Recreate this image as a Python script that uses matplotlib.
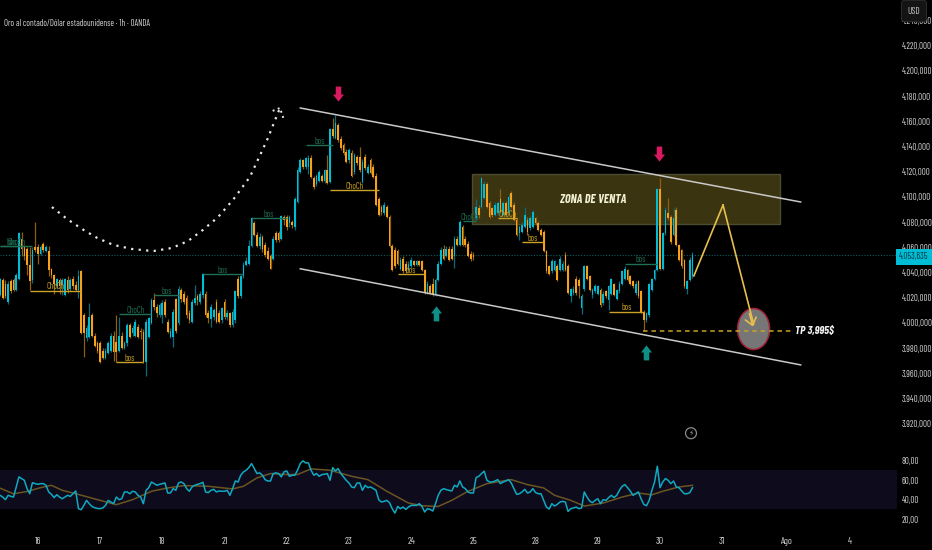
"""XAUUSD 1h (TradingView style) con canal bajista y zona de venta."""
import numpy as np
import matplotlib
matplotlib.use("Agg")
import matplotlib.pyplot as plt
from matplotlib.patches import Ellipse, Rectangle
from matplotlib.path import Path

plt.rcParams["font.family"] = ["Barlow Condensed", "Liberation Sans", "DejaVu Sans"]

BG = "#000000"
UP = "#00bcd4"
DOWN = "#f7a11a"
UP_WICK = "#0b6a7c"
DOWN_WICK = "#8f5f10"
GREEN = "#1f6f55"
GOLD = "#c9a227"
PX_W, PX_H = 932, 550
PANE_R = 897          # borde derecho del panel en px
BAR_PX = 2.705

opens = [
    4022, 4034, 4031, 4017, 4033, 4034, 4026, 4035, 4067, 4060,
    4059, 4046, 4034, 4060, 4060, 4055, 4063, 4057, 4057, 4043,
    4038, 4029, 4034, 4030, 4022, 4034, 4027, 4035, 4030, 4026,
    4041, 4006, 3988, 3989, 4006, 3990, 3984, 3984, 3978, 3972,
    3976, 3978, 3990, 3985, 3978, 3990, 3980, 3984, 3998, 3992,
    3990, 3997, 3994, 3993, 3969, 3989, 4000, 4018, 4013, 4006,
    4006, 4017, 4001, 3989, 3989, 4019, 4000, 4026, 4023, 4020,
    4008, 4001, 4016, 4021, 4017, 4022, 4023, 4008, 4003, 4005,
    4017, 4008, 4002, 4017, 4005, 4008, 3998, 4002, 4035, 4021,
    4037, 4046, 4047, 4061, 4079, 4070, 4061, 4068, 4062, 4057,
    4053, 4051, 4071, 4071, 4067, 4084, 4084, 4079, 4080, 4076,
    4096, 4120, 4129, 4124, 4124, 4131, 4115, 4110, 4113, 4117,
    4113, 4121, 4112, 4154, 4147, 4157, 4146, 4141, 4136, 4129,
    4135, 4120, 4132, 4132, 4112, 4132, 4119, 4129, 4124, 4117,
    4098, 4092, 4087, 4092, 4084, 4061, 4058, 4057, 4043, 4051,
    4047, 4042, 4045, 4049, 4046, 4049, 4049, 4042, 4024, 4029,
    4031, 4022, 4034, 4047, 4059, 4053, 4059, 4059, 4053, 4067,
    4062, 4076, 4067, 4063, 4055, 4054, 4083, 4091, 4092, 4099,
    4110, 4095, 4091, 4086, 4087, 4098, 4086, 4095, 4087, 4103,
    4094, 4082, 4071, 4072, 4076, 4082, 4075, 4076, 4083, 4079,
    4074, 4072, 4057, 4045, 4041, 4042, 4045, 4042, 4042, 4054,
    4045, 4021, 4024, 4035, 4034, 4012, 4027, 4045, 4037, 4022,
    4025, 4023, 4026, 4016, 4025, 4018, 4023, 4031, 4019, 4025,
    4031, 4035, 4042, 4037, 4033, 4024, 4033, 4025, 4009, 4002,
    4006, 4026, 4035, 4042, 4106, 4043, 4071, 4087, 4084, 4070,
    4090, 4062, 4058, 4050, 4027, 4034, 4037,
]
closes = [
    4035, 4020, 4021, 4031, 4025, 4026, 4038, 4071, 4059, 4053,
    4046, 4033, 4058, 4058, 4055, 4060, 4058, 4060, 4042, 4038,
    4031, 4035, 4029, 4034, 4035, 4026, 4034, 4029, 4026, 4037,
    3992, 3992, 3996, 4005, 3990, 3982, 3978, 3969, 3972, 3978,
    3984, 3990, 3977, 3977, 3990, 3980, 3984, 3998, 3989, 3996,
    4001, 3989, 3993, 3969, 4001, 4004, 4018, 4013, 4008, 4014,
    4016, 4006, 3993, 3994, 4009, 3994, 4027, 4019, 4017, 4006,
    4002, 4017, 4020, 4018, 4023, 4039, 4006, 4004, 4013, 4010,
    4001, 4001, 4012, 4005, 4008, 3998, 4009, 4025, 4021, 4037,
    4046, 4049, 4061, 4083, 4070, 4061, 4068, 4059, 4054, 4051,
    4043, 4067, 4066, 4066, 4085, 4082, 4076, 4084, 4078, 4098,
    4121, 4129, 4124, 4131, 4131, 4116, 4108, 4117, 4120, 4113,
    4121, 4111, 4154, 4148, 4159, 4145, 4139, 4135, 4128, 4137,
    4117, 4133, 4127, 4121, 4128, 4123, 4124, 4119, 4116, 4094,
    4086, 4088, 4094, 4084, 4061, 4042, 4045, 4047, 4050, 4041,
    4041, 4047, 4050, 4046, 4049, 4046, 4042, 4024, 4031, 4024,
    4022, 4034, 4047, 4058, 4051, 4059, 4050, 4051, 4067, 4062,
    4080, 4062, 4062, 4053, 4051, 4052, 4092, 4086, 4115, 4110,
    4092, 4084, 4086, 4094, 4095, 4088, 4095, 4086, 4100, 4092,
    4082, 4070, 4076, 4078, 4086, 4072, 4083, 4088, 4079, 4074,
    4070, 4057, 4041, 4039, 4049, 4049, 4034, 4051, 4047, 4042,
    4024, 4027, 4027, 4024, 4029, 4021, 4045, 4035, 4026, 4026,
    4029, 4029, 4014, 4023, 4021, 4029, 4035, 4022, 4026, 4031,
    4041, 4043, 4034, 4031, 4029, 4031, 4021, 4009, 4002, 4008,
    4031, 4035, 4042, 4106, 4043, 4071, 4090, 4083, 4064, 4083,
    4062, 4050, 4045, 4029, 4033, 4050, 4053.635,
]
highs = [
    4036, 4036, 4034, 4033, 4035, 4036, 4040, 4072, 4072, 4062,
    4060, 4060, 4060, 4080, 4063, 4062, 4064, 4062, 4061, 4044,
    4039, 4036, 4036, 4036, 4036, 4037, 4036, 4037, 4033, 4042,
    4042, 4008, 3998, 4016, 4008, 3992, 3986, 3986, 3980, 3980,
    3986, 3992, 3994, 4006, 4005, 3993, 3986, 4000, 4000, 3998,
    4003, 3999, 3996, 3995, 4003, 4005, 4020, 4024, 4015, 4016,
    4018, 4019, 4003, 3996, 4011, 4020, 4029, 4028, 4025, 4022,
    4010, 4019, 4030, 4023, 4025, 4040, 4025, 4010, 4015, 4012,
    4019, 4010, 4013, 4019, 4010, 4009, 4011, 4026, 4037, 4038,
    4048, 4052, 4066, 4084, 4081, 4072, 4071, 4070, 4064, 4060,
    4055, 4069, 4073, 4073, 4086, 4086, 4086, 4086, 4082, 4100,
    4124, 4131, 4130, 4132, 4133, 4133, 4117, 4118, 4121, 4118,
    4122, 4133, 4155, 4163, 4165, 4159, 4148, 4143, 4138, 4139,
    4137, 4135, 4133, 4140, 4130, 4134, 4126, 4131, 4126, 4119,
    4100, 4094, 4096, 4094, 4086, 4063, 4060, 4059, 4052, 4053,
    4049, 4049, 4052, 4050, 4050, 4050, 4050, 4043, 4033, 4031,
    4036, 4036, 4049, 4060, 4062, 4061, 4061, 4061, 4069, 4069,
    4082, 4078, 4069, 4065, 4057, 4056, 4098, 4094, 4116, 4113,
    4112, 4097, 4092, 4096, 4097, 4106, 4097, 4097, 4102, 4105,
    4096, 4083, 4078, 4080, 4092, 4084, 4085, 4090, 4084, 4081,
    4075, 4074, 4058, 4046, 4051, 4050, 4047, 4053, 4049, 4056,
    4047, 4028, 4029, 4037, 4036, 4023, 4046, 4046, 4038, 4028,
    4031, 4030, 4028, 4025, 4026, 4030, 4036, 4032, 4027, 4033,
    4042, 4045, 4043, 4038, 4034, 4033, 4034, 4026, 4010, 4009,
    4032, 4036, 4043, 4107, 4115, 4072, 4092, 4099, 4086, 4091,
    4092, 4063, 4059, 4051, 4034, 4052, 4056,
]
lows = [
    4021, 4019, 4020, 4015, 4024, 4025, 4025, 4034, 4053, 4050,
    4038, 4026, 4032, 4056, 4047, 4054, 4056, 4056, 4037, 4036,
    4023, 4027, 4023, 4022, 4021, 4024, 4025, 4027, 4025, 4020,
    3991, 3973, 3986, 3988, 3989, 3981, 3976, 3968, 3971, 3971,
    3975, 3977, 3970, 3969, 3977, 3979, 3979, 3982, 3988, 3990,
    3989, 3988, 3987, 3968, 3958, 3988, 3999, 4010, 4005, 4005,
    4000, 4005, 3992, 3988, 3981, 3992, 3998, 4017, 4015, 4004,
    4000, 4000, 4014, 4014, 4015, 4020, 4005, 4000, 3997, 4002,
    4000, 4000, 4000, 4003, 4002, 3997, 3997, 4000, 4020, 4020,
    4036, 4045, 4046, 4060, 4069, 4060, 4059, 4056, 4052, 4050,
    4043, 4050, 4064, 4064, 4066, 4078, 4074, 4076, 4075, 4074,
    4095, 4119, 4122, 4122, 4118, 4115, 4106, 4109, 4112, 4112,
    4111, 4110, 4111, 4147, 4146, 4144, 4137, 4133, 4127, 4127,
    4116, 4118, 4125, 4120, 4111, 4121, 4118, 4118, 4115, 4093,
    4085, 4086, 4086, 4083, 4060, 4041, 4044, 4046, 4042, 4040,
    4040, 4041, 4044, 4045, 4045, 4045, 4041, 4023, 4023, 4023,
    4021, 4021, 4033, 4046, 4050, 4052, 4049, 4050, 4044, 4061,
    4061, 4061, 4060, 4052, 4049, 4050, 4082, 4083, 4091, 4098,
    4091, 4083, 4084, 4085, 4086, 4087, 4085, 4085, 4086, 4091,
    4081, 4069, 4066, 4071, 4075, 4070, 4074, 4075, 4078, 4073,
    4069, 4056, 4040, 4038, 4040, 4041, 4033, 4041, 4041, 4041,
    4023, 4017, 4022, 4022, 4020, 4007, 4025, 4034, 4025, 4020,
    4024, 4022, 4013, 4014, 4020, 4010, 4022, 4021, 4018, 4024,
    4030, 4034, 4033, 4030, 4028, 4022, 4020, 4008, 3994, 4001,
    4005, 4025, 4034, 4041, 4042, 4042, 4070, 4082, 4063, 4069,
    4061, 4049, 4044, 4028, 4023, 4033, 4036,
]

rsi = [
    44.4, 42.6, 39.9, 44.4, 43.3, 42.6, 52.9, 63.2, 61.5, 59.7, 51.2, 46, 57.3, 56.3, 55.6,
    56.3, 56.3, 54.6, 47.8, 45.4, 42, 45, 42.6, 40.9, 42.6, 44.4, 43.3, 46, 48.8,
    30.7, 29.6, 34.1, 39.2, 35.8, 33, 31.7, 31, 30.7, 31.4, 34.1, 39.2, 37.5, 35.8, 42.6,
    39.9, 40.9, 47.8, 47.8, 46, 48.5, 47.8, 44.4, 42.6, 35.8, 49.5, 52.2, 58, 56.3, 54.6,
    55.6, 56.3, 57, 46.7, 46.7, 51.2, 49.5, 57, 58, 56.3, 51.2, 48.5, 52.9, 54.6, 55.6,
    56.3, 57.7, 47.8, 47.1, 49.5, 50.5, 47.8, 48.8, 48.5, 48.5, 49.5, 44.4, 51.2, 59,
    58, 64.9, 68.3, 70, 72.7, 76.8, 71.7, 66.6, 67.3, 64.9, 60.4, 59, 59, 66.6, 67.3,
    66.6, 63.2, 68.3, 69.3, 63.8, 64.9, 64.9, 70, 76.8, 79.6, 77.5, 77.5, 70, 64.9,
    66.6, 63.8, 65.6, 65.9, 66.6, 59.7, 72.7, 69.3, 71.7, 66.6, 63.2, 59.7, 57, 52.9, 52.2,
    57, 57, 49.5, 54.6, 52.2, 52.9, 51.2, 49.5, 39.9, 37.5, 38.2, 39.2, 36.8, 30.7, 26.2,
    33, 30.7, 32.4, 30, 32.4, 34.1, 34.1, 34.1, 35.8, 33, 27.3, 30.7, 30, 28.3,
    35.8, 44.4, 49.5, 51.2, 50.2, 49.5, 48.8, 54.6, 52.9, 59, 52.9, 51.2, 47.8,
    46.7, 46.7, 62.5, 63.8, 66.6, 69, 59.7, 58, 58, 59, 60.4, 56.3, 58, 59, 60.4,
    57, 51.2, 45.4, 46, 47.8, 50.5, 46.7, 47.8, 51.2, 47.1, 46, 46, 39.2, 32.4, 30.3,
    35.8, 33.4, 35.1, 37.5, 38.2, 37.5, 27.9, 30.7, 31.4, 32.4, 30.7, 31.4, 47.8, 42.6, 38.5,
    36.8, 39.2, 40.9, 35.8, 39.9, 39.2, 42, 44.4, 42, 44.4, 49.5, 53.6, 55.3, 52.2, 48.8,
    44.4, 46, 47.8, 40.9, 35.1, 33.7, 39.2, 49.5, 58, 74.1, 52.2, 58, 61.5, 59.7, 56.3,
    59, 52.9, 52.2, 48.8, 46, 46, 47.1, 52.2,
]
rsi_ma_bar = [0, 5, 10, 15, 19, 23, 28, 37, 43, 49, 56, 62, 68, 77, 86, 90, 95, 100, 106, 110,
              115, 122, 130, 136, 143, 151, 156, 162, 167, 173, 174, 180, 189, 195, 201, 205,
              211, 216, 223, 230, 236, 241, 245, 251, 256]
rsi_ma_val = [51.7, 45.9, 48.3, 52.2, 54.6, 49.5, 46, 39.2, 34.8, 39.9, 48.5, 51.9, 54.3, 53.6,
              50.9, 53.6, 62.2, 66.6, 65.6, 65.6, 71.4, 70, 63.8, 60.4, 48.5, 36.5, 33.7, 33,
              39.2, 48.5, 49.5, 56.3, 60.4, 55.3, 51.9, 44.4, 39.2, 33.4, 36.5, 42.6, 46.7,
              44.9, 48.5, 52.9, 54.6]

day_ticks = [14, 37, 60, 83, 106, 129, 152, 175, 198, 221, 244, 267, 291, 314]
day_labels = ["16", "17", "18", "21", "22", "23", "24", "25", "28", "29", "30", "31", "Ago", "4"]
price_ticks = list(range(3920, 4241, 20))
rsi_ticks = [20, 40, 60, 80]
last_price = 4053.635

# rotura de estructura: inicio, fin (barra), nivel, texto
bos_green = [(0, 12, 4061, "ChoCh"), (0, 9, 4061, "bos"), (44, 56, 4007, "ChoCh"),
             (57, 66, 4022, "bos"), (75, 90, 4039, "bos"), (93, 106, 4083, "bos"),
             (113, 123, 4141, "bos"), (171, 176, 4081, "ChoCh"), (231, 243, 4047, "bos")]
bos_gold = [(11, 30, 4025.6, "ChoCh"), (43, 53, 3969, "bos"), (122, 140, 4105.6, "ChoCh"),
            (147, 157, 4039, "bos"), (184, 191, 4083, "ChoCh"), (193, 201, 4064, "bos"),
            (225, 238, 4009, "bos")]

channel_top_x, channel_top_y = [111, 296], [4170.6, 4096]
channel_low_x, channel_low_y = [111, 296], [4043, 3966.7]
zone_x, zone_y = (174.6, 288.5), (4078.6, 4118)
path_x, path_y = [256.5, 267.3], [4037.3, 4093.6]
drop_x, drop_y = [267.3, 278.4], [4093.6, 3996.8]
target_bar, target_price = 278.6, 3995
tp_x, tp_y = [237.7, 292.8], [3994, 3994]
curve_x = [19.2, 24.8, 30.3, 35.9, 41.8, 48.8, 56.6, 63.6, 69.5, 75, 80.6, 86.1, 92.4, 98.7, 103.5]
curve_y = [4092, 4082.5, 4074.6, 4067.5, 4062, 4058.7, 4057, 4059.5, 4065, 4073.8, 4084, 4097.6,
           4115.9, 4145, 4170.6]
curve_head_x, curve_head_y = [100.8, 103.5, 105], [4168.3, 4170.6, 4161]
down_arrow_x, down_arrow_y = [125, 243.6], [4182, 4134]
up_arrow_x, up_arrow_y = [161, 238.8], [4008, 3977]


def axes_px(top, bottom):
    """Rectángulo de ejes en fracción de figura a partir de px de imagen."""
    return [0, 1 - bottom / PX_H, PANE_R / PX_W, (bottom - top) / PX_H]


def draw_candles(ax):
    x = np.arange(len(closes))
    o, c = np.array(opens, float), np.array(closes, float)
    up = c >= o
    ax.vlines(x, lows, highs, colors=np.where(up, UP_WICK, DOWN_WICK), lw=0.9, zorder=3)
    ax.bar(x, np.maximum(np.abs(c - o), 0.8), bottom=np.minimum(o, c), width=0.62,
           color=np.where(up, UP, DOWN), lw=0, zorder=4)


def draw_structure(ax, items, color):
    for x0, x1, level, label in items:
        ax.hlines(level, x0, x1, colors=color, lw=1.0, zorder=5)
        ax.text((x0 + x1) / 2, level - 0.6, label, color=color, fontsize=6.2,
                ha="center", va="bottom", zorder=6)


fig = plt.figure(figsize=(PX_W / 100, PX_H / 100), dpi=100, facecolor=BG)
xlim = (0, PANE_R / BAR_PX)

# --- panel de precio ---
ax = fig.add_axes(axes_px(0, 440), facecolor=BG)
ax.set_xlim(*xlim)
ax.set_ylim(3907.1, 4256.3)
for s in ax.spines.values():
    s.set_visible(False)
ax.set_xticks([])
ax.yaxis.tick_right()
ax.set_yticks(price_ticks)
ax.set_yticklabels([f"{p // 1000}.{p % 1000:03d},000" for p in price_ticks])
ax.tick_params(axis="y", length=0, pad=3.2, labelsize=6.4, labelcolor="#d6d6d6")

ax.add_patch(Rectangle((zone_x[0], zone_y[0]), zone_x[1] - zone_x[0], zone_y[1] - zone_y[0],
                       facecolor="#3a3410", edgecolor="#4c4a32", lw=1, zorder=1))
ax.axhline(last_price, color="#0e5d66", lw=0.8, ls=(0, (1, 1.5)), zorder=2)
draw_candles(ax)
draw_structure(ax, bos_green, GREEN)
draw_structure(ax, bos_gold, GOLD)

ax.plot(channel_top_x, channel_top_y, color="#c9c9c9", lw=1.1, zorder=7)
ax.plot(channel_low_x, channel_low_y, color="#c9c9c9", lw=1.1, zorder=7)

ax.add_patch(Ellipse((278.6, 3995.2), 32 / BAR_PX, 41 / 1.26, facecolor="#767676",
                     edgecolor="#a3243a", lw=1.1, zorder=8))
ax.plot(tp_x, tp_y, color=GOLD, lw=1.1, ls=(0, (3, 2.5)), zorder=9)
ax.plot(path_x, path_y, color="#e6bf4c", lw=1.2, zorder=9)
ax.plot(drop_x[:1] + [target_bar], drop_y[:1] + [target_price + 4], color="#e6bf4c", lw=1.2, zorder=9)
ax.annotate("", xy=(target_bar, target_price), xytext=(drop_x[0] + 9.5, drop_y[0] - 84),
            arrowprops=dict(arrowstyle="->,head_length=0.5,head_width=0.4", color="#e6bf4c", lw=1.2),
            zorder=10)
ax.text(593 / BAR_PX, 4098, "ZONA DE VENTA", color="#f1f0d2", fontsize=8.8, fontweight="bold",
        style="italic", ha="center", va="center", zorder=9)
ax.text(795 / BAR_PX, 3994, "TP 3,995$", color="#f2f2f2", fontsize=8.2, fontweight="bold",
        style="italic", ha="left", va="center", zorder=9)

ax.plot(curve_x, curve_y, color="#e8e8e8", lw=1.6, ls=(0, (1, 2.4)), zorder=7)
ax.plot(curve_head_x, curve_head_y, color="#e8e8e8", lw=1.4, ls=(0, (1, 1.8)), zorder=7)

arrow_down = Path([(-0.35, 1), (0.35, 1), (0.35, 0), (0.7, 0), (0, -0.9), (-0.7, 0), (-0.35, 0), (-0.35, 1)],
                  closed=True)
arrow_up = Path([(-0.35, -1), (0.35, -1), (0.35, 0), (0.7, 0), (0, 0.9), (-0.7, 0), (-0.35, 0), (-0.35, -1)],
                closed=True)
ax.scatter(down_arrow_x, down_arrow_y, marker=arrow_down, s=130, color="#d81b60", lw=0, zorder=9)
ax.scatter(up_arrow_x, up_arrow_y, marker=arrow_up, s=130, color="#0f8f86", lw=0, zorder=9)

# rayo de alerta
ax.scatter([691 / BAR_PX], [3912.5], s=62, facecolors="none", edgecolors="#8a8a8a", lw=0.9, zorder=9)
ax.text(691 / BAR_PX, 3912.5, "\u26a1", color="#9a9a9a", fontsize=5.5, ha="center", va="center",
        family="DejaVu Sans", zorder=10)

ax.text(0.004, 0.9475, "Oro al contado/Dólar estadounidense · 1h · OANDA", transform=ax.transAxes,
        color="#d6d6d6", fontsize=6.3, ha="left", va="center")

# etiqueta de último precio y botón USD
fig.text(914 / PX_W, 1 - 257 / PX_H, "4.053,635", color="#04343c", fontsize=6.4, ha="center",
         va="center", zorder=20,
         bbox=dict(boxstyle="square,pad=0.35", facecolor=UP, edgecolor="none"))
fig.text(914 / PX_W, 1 - 11 / PX_H, "USD", color="#c8c8c8", fontsize=6.8, ha="center", va="center",
         zorder=20,
         bbox=dict(boxstyle="round,pad=0.65,rounding_size=0.3", facecolor="#141414", edgecolor="#2b2b2b", lw=0.7))

# --- panel RSI ---
ax2 = fig.add_axes(axes_px(440, 531), facecolor=BG)
ax2.set_xlim(*xlim)
ax2.set_ylim(7.9, 100.9)
for s in ax2.spines.values():
    s.set_visible(False)
ax2.axhspan(30, 70, color="#0e0b1c", lw=0, zorder=1)
ax2.plot(np.arange(len(rsi)), rsi, color="#0fa9c2", lw=1.1, zorder=4)
ax2.plot(rsi_ma_bar, rsi_ma_val, color="#6a5522", lw=1.1, zorder=3)
ax2.yaxis.tick_right()
ax2.set_yticks(rsi_ticks)
ax2.set_yticklabels([f"{v},00" for v in rsi_ticks])
ax2.tick_params(axis="y", length=0, pad=3.2, labelsize=6.4, labelcolor="#d6d6d6")
ax2.set_xticks(day_ticks)
ax2.set_xticklabels(day_labels)
ax2.tick_params(axis="x", length=0, pad=4, labelsize=6.9, labelcolor="#d6d6d6")

fig.savefig("out.png", dpi=100, facecolor=BG)
